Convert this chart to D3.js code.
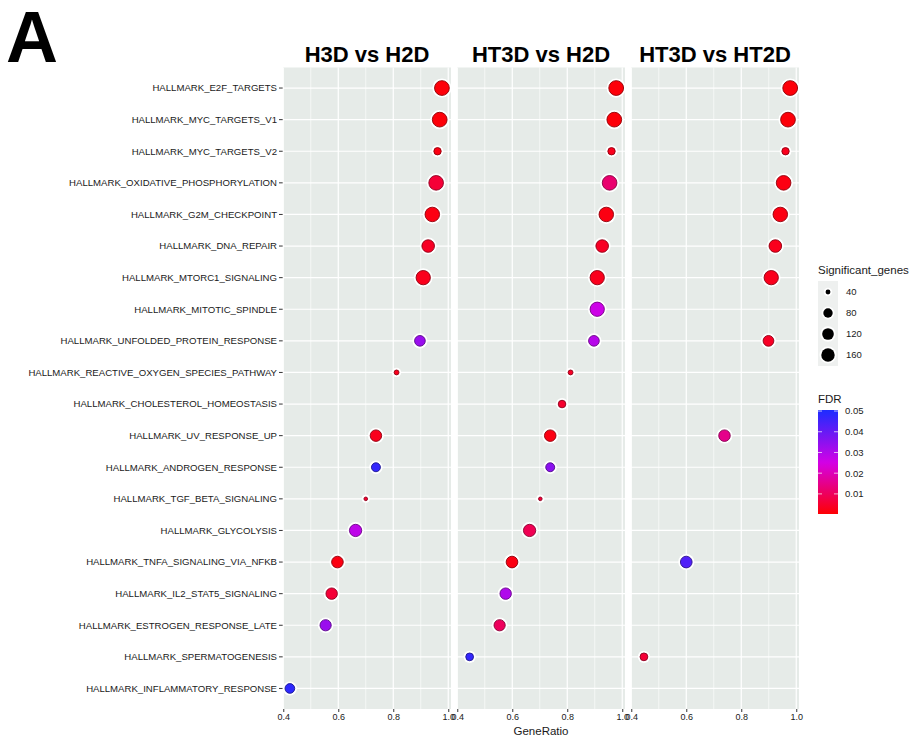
<!DOCTYPE html>
<html><head><meta charset="utf-8">
<script src="https://cdn.jsdelivr.net/npm/d3@7"></script>
<style>body{margin:0;background:#fff}svg{display:block;font-family:"Liberation Sans",Arial,sans-serif}</style>
</head><body><svg id="c" width="923" height="740"></svg>
<script>
const pathways = ["HALLMARK_E2F_TARGETS","HALLMARK_MYC_TARGETS_V1","HALLMARK_MYC_TARGETS_V2","HALLMARK_OXIDATIVE_PHOSPHORYLATION","HALLMARK_G2M_CHECKPOINT","HALLMARK_DNA_REPAIR","HALLMARK_MTORC1_SIGNALING","HALLMARK_MITOTIC_SPINDLE","HALLMARK_UNFOLDED_PROTEIN_RESPONSE","HALLMARK_REACTIVE_OXYGEN_SPECIES_PATHWAY","HALLMARK_CHOLESTEROL_HOMEOSTASIS","HALLMARK_UV_RESPONSE_UP","HALLMARK_ANDROGEN_RESPONSE","HALLMARK_TGF_BETA_SIGNALING","HALLMARK_GLYCOLYSIS","HALLMARK_TNFA_SIGNALING_VIA_NFKB","HALLMARK_IL2_STAT5_SIGNALING","HALLMARK_ESTROGEN_RESPONSE_LATE","HALLMARK_SPERMATOGENESIS","HALLMARK_INFLAMMATORY_RESPONSE"];
const comparisons = ["H3D vs H2D","HT3D vs H2D","HT3D vs HT2D"];

const ratioH3D_H2D = [0.977,0.969,0.961,0.956,0.942,0.927,0.909,null,0.897,0.812,null,0.737,0.737,0.700,0.663,0.597,0.576,0.554,null,0.424];
const genesH3D_H2D = [195,194,56,191,188,139,182,null,101,40,null,116,74,38,133,119,115,111,null,85];
const fdrH3D_H2D   = [0.001,0.001,0.002,0.006,0.002,0.004,0.003,null,0.033,0.003,null,0.003,0.047,0.005,0.028,0.002,0.006,0.033,null,0.048];

const ratioHT3D_H2D = [0.978,0.971,0.961,0.954,0.942,0.927,0.909,0.909,0.897,0.812,0.781,0.738,0.738,0.702,0.663,0.599,0.576,0.554,0.445,null];
const genesHT3D_H2D = [196,194,56,191,188,139,182,181,101,40,58,117,74,38,133,120,115,111,60,null];
const fdrHT3D_H2D   = [0.001,0.001,0.003,0.012,0.002,0.004,0.003,0.026,0.029,0.004,0.005,0.002,0.035,0.006,0.009,0.002,0.030,0.010,0.047,null];

const ratioHT3D_HT2D = [0.978,0.970,0.961,0.954,0.942,0.924,0.909,null,0.899,null,null,0.739,null,null,null,0.600,null,null,0.446,null];
const genesHT3D_HT2D = [196,194,56,191,188,139,182,null,102,null,null,117,null,null,null,120,null,null,60,null];
const fdrHT3D_HT2D   = [0.001,0.001,0.003,0.002,0.002,0.003,0.003,null,0.004,null,null,0.015,null,null,null,0.043,null,null,0.006,null];

const xTicks = [0.4,0.6,0.8,1.0];
const xMinor = [0.5,0.7,0.9];
const sizeBreaks = [40,80,120,160];
const fdrBreaks = [0.01,0.02,0.03,0.04,0.05];

const series = [
  {ratio:ratioH3D_H2D, genes:genesH3D_H2D, fdr:fdrH3D_H2D},
  {ratio:ratioHT3D_H2D, genes:genesHT3D_H2D, fdr:fdrHT3D_H2D},
  {ratio:ratioHT3D_HT2D, genes:genesHT3D_HT2D, fdr:fdrHT3D_HT2D}
];

const svg = d3.select("#c");
const panelX0 = 283, panelW = 168, panelStep = 174, panelTop = 67.5, panelBottom = 709;
const y = d3.scalePoint().domain(pathways).range([panelTop, panelBottom]).padding(0.65);
const color = d3.scaleLinear().domain([0,0.025,0.05]).range(["#ff0000","#d400e6","#1e2cff"]).clamp(true);
const allGenes = series.flatMap(s => s.genes.filter(v => v != null));
const gMin = d3.min(allGenes), gMax = d3.max(allGenes);
const rad = d3.scaleSqrt().domain([0, gMax - gMin]).range([0, 5.6]);
const r = n => 1.4 + rad(Math.max(0, n - gMin));

svg.append("text").attr("x",6).attr("y",62).attr("font-size",72).attr("font-weight","bold").attr("fill","#000").text("A");

const yAxis = svg.append("g");
pathways.forEach(p => {
  yAxis.append("line").attr("x1",279).attr("x2",283).attr("y1",y(p)).attr("y2",y(p)).attr("stroke","#333").attr("stroke-width",1);
  yAxis.append("text").attr("x",277).attr("y",y(p)).attr("dy","0.35em").attr("text-anchor","end").attr("font-size",9.6).attr("fill","#1a1a1a").text(p);
});

comparisons.forEach((comp, i) => {
  const x0 = panelX0 + i*panelStep;
  const x = d3.scaleLinear().domain([0.399, 1.01]).range([x0, x0 + panelW]);
  const g = svg.append("g");
  g.append("rect").attr("x",x0).attr("y",panelTop).attr("width",panelW).attr("height",panelBottom-panelTop).attr("fill","#e6ebe8");
  xMinor.forEach(t => g.append("line").attr("x1",x(t)).attr("x2",x(t)).attr("y1",panelTop).attr("y2",panelBottom).attr("stroke","#fff").attr("stroke-width",0.6));
  xTicks.forEach(t => g.append("line").attr("x1",x(t)).attr("x2",x(t)).attr("y1",panelTop).attr("y2",panelBottom).attr("stroke","#fff").attr("stroke-width",1.2));
  pathways.forEach(p => g.append("line").attr("x1",x0).attr("x2",x0+panelW).attr("y1",y(p)).attr("y2",y(p)).attr("stroke","#fff").attr("stroke-width",1.2));
  svg.append("text").attr("x",x0+panelW/2).attr("y",62).attr("text-anchor","middle").attr("font-size",22).attr("font-weight","bold").attr("fill","#000").text(comp);
  const ax = svg.append("g").attr("transform",`translate(0,${panelBottom})`)
    .call(d3.axisBottom(x).tickValues(xTicks).tickSize(3).tickPadding(2).tickFormat(d3.format(".1f")));
  ax.select(".domain").remove();
  ax.selectAll("line").attr("stroke","#333");
  ax.selectAll("text").attr("font-size",9).attr("fill","#1a1a1a").attr("font-family","Liberation Sans, Arial, sans-serif");
  const s = series[i];
  const pts = pathways.map((p,j) => ({p, v:s.ratio[j], n:s.genes[j], f:s.fdr[j]})).filter(d => d.v != null);
  g.selectAll(".halo").data(pts).join("circle").attr("class","halo").attr("cx",d=>x(d.v)).attr("cy",d=>y(d.p)).attr("r",d=>r(d.n)+2.6).attr("fill","#fff");
  g.selectAll(".dot").data(pts).join("circle").attr("class","dot").attr("cx",d=>x(d.v)).attr("cy",d=>y(d.p)).attr("r",d=>r(d.n)+0.4)
    .attr("fill",d=>color(d.f)).attr("stroke",d=>d3.color(color(d.f)).darker(1.6)).attr("stroke-width",0.9);
});

svg.append("text").attr("x",panelX0 + (2*panelStep+panelW)/2).attr("y",735).attr("text-anchor","middle").attr("font-size",11.5).attr("fill","#1a1a1a").text("GeneRatio");

svg.append("text").attr("x",818).attr("y",274).attr("font-size",11.5).attr("fill","#1a1a1a").text("Significant_genes");
const keyY = d3.scalePoint().domain(sizeBreaks).range([292,355]);
svg.append("rect").attr("x",818).attr("y",281).attr("width",20).attr("height",85).attr("fill","#eef0ef");
sizeBreaks.forEach(b => {
  svg.append("circle").attr("cx",828).attr("cy",keyY(b)).attr("r",r(b)+2.2).attr("fill","#fff");
  svg.append("circle").attr("cx",828).attr("cy",keyY(b)).attr("r",r(b)+0.4).attr("fill","#000");
  svg.append("text").attr("x",846).attr("y",keyY(b)).attr("dy","0.35em").attr("font-size",9.5).attr("fill","#1a1a1a").text(b);
});

svg.append("text").attr("x",818).attr("y",403).attr("font-size",11.5).attr("fill","#1a1a1a").text("FDR");
const cb = d3.scaleLinear().domain([0.0003,0.0505]).range([514,410]);
const defs = svg.append("defs");
const grad = defs.append("linearGradient").attr("id","fdrgrad").attr("x1",0).attr("y1",1).attr("x2",0).attr("y2",0);
d3.range(0,1.0001,0.05).forEach(t => {
  const v = cb.domain()[0] + t*(cb.domain()[1]-cb.domain()[0]);
  grad.append("stop").attr("offset",t).attr("stop-color",color(v));
});
svg.append("rect").attr("x",818).attr("y",410).attr("width",20).attr("height",104).attr("fill","url(#fdrgrad)");
fdrBreaks.forEach(b => {
  svg.append("line").attr("x1",818).attr("x2",822).attr("y1",cb(b)).attr("y2",cb(b)).attr("stroke","#fff").attr("stroke-opacity",0.7);
  svg.append("line").attr("x1",834).attr("x2",838).attr("y1",cb(b)).attr("y2",cb(b)).attr("stroke","#fff").attr("stroke-opacity",0.7);
  svg.append("text").attr("x",845).attr("y",cb(b)).attr("dy","0.35em").attr("font-size",9.5).attr("fill","#1a1a1a").text(d3.format(".2f")(b));
});
</script></body></html>
